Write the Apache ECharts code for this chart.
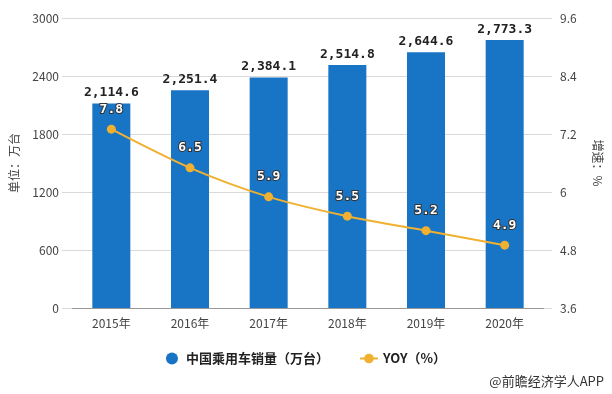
<!DOCTYPE html>
<html><head><meta charset="utf-8">
<script src="https://cdn.jsdelivr.net/npm/echarts@6/dist/echarts.min.js"></script>
<style>html,body{margin:0;padding:0;background:#fff}#c{width:612px;height:394px}</style>
</head><body><div id="c"></div>
<script>
const categories = ['2015年','2016年','2017年','2018年','2019年','2020年'];
const sales = [2114.6, 2251.4, 2384.1, 2514.8, 2644.6, 2773.3];
const yoyPlot = [7.3, 6.5, 5.9, 5.5, 5.2, 4.9];
const yoyLabels = ['7.8','6.5','5.9','5.5','5.2','4.9'];
const leftTicks = {min: 0, max: 3000, interval: 600};
const rightTicks = {min: 3.6, max: 9.6, interval: 1.2};
const salesName = '中国乘用车销量（万台）';
const yoyName = 'YOY（%）';

const chart = echarts.init(document.getElementById('c'), null, {renderer: 'canvas'});
const cjk = '"Noto Sans CJK SC", "Noto Sans", sans-serif';
chart.setOption({
  animation: false,
  grid: {left: 68, right: 60, top: 18, bottom: 86},
  legend: {
    bottom: 24, left: 'center', itemGap: 30,
    data: [{name: salesName, icon: 'circle'}, {name: yoyName}],
    itemWidth: 18, itemHeight: 12,
    textStyle: {fontFamily: cjk, fontSize: 13, fontWeight: 'bold', color: '#222'}
  },
  graphic: [{type: 'text', right: 8, bottom: 6,
    style: {text: '@前瞻经济学人APP', font: '13px "Noto Sans CJK SC", sans-serif', fill: '#333'}}],
  xAxis: {
    type: 'category', data: categories,
    axisLine: {lineStyle: {color: '#999'}},
    axisTick: {alignWithLabel: true, length: 5, lineStyle: {color: '#999'}},
    axisLabel: {fontFamily: cjk, fontSize: 12, color: '#444', margin: 9}
  },
  yAxis: [{
    type: 'value', min: leftTicks.min, max: leftTicks.max, interval: leftTicks.interval,
    name: '单位：万台', nameLocation: 'middle', nameRotate: 90, nameGap: 52,
    nameTextStyle: {fontFamily: cjk, fontSize: 12, color: '#444'},
    axisLine: {show: false},
    axisTick: {show: true, length: 10, lineStyle: {color: '#d9d9d9'}},
    axisLabel: {fontFamily: cjk, fontSize: 12, color: '#444', margin: 13, formatter: v => String(v)},
    splitLine: {lineStyle: {color: '#d9d9d9'}}
  }, {
    type: 'value', min: rightTicks.min, max: rightTicks.max, interval: rightTicks.interval,
    name: '增速：%', nameLocation: 'middle', nameRotate: -90, nameGap: 48,
    nameTextStyle: {fontFamily: cjk, fontSize: 12, color: '#444'},
    axisLine: {show: false},
    axisTick: {show: true, length: 8, lineStyle: {color: '#d9d9d9'}},
    axisLabel: {fontFamily: cjk, fontSize: 12, color: '#444', margin: 16, formatter: v => String(+v.toFixed(1))},
    splitLine: {show: false}
  }],
  series: [{
    name: salesName, type: 'bar', data: sales, barWidth: 38,
    itemStyle: {color: '#1874c4'},
    label: {show: true, position: 'top', distance: 4,
      formatter: p => p.value.toLocaleString('en-US', {minimumFractionDigits: 1, maximumFractionDigits: 1}),
      fontFamily: '"DejaVu Sans Mono", monospace', fontSize: 13, fontWeight: 'bold', color: '#222'}
  }, {
    name: yoyName, type: 'line', yAxisIndex: 1, data: yoyPlot, smooth: 0.3,
    symbol: 'circle', symbolSize: 9,
    lineStyle: {color: '#f0b030', width: 2},
    itemStyle: {color: '#f0b030'},
    label: {show: true, position: 'top', distance: 9,
      formatter: p => yoyLabels[p.dataIndex],
      fontFamily: '"DejaVu Sans Mono", monospace', fontSize: 13, fontWeight: 'bold', color: '#fff',
      textBorderColor: '#333', textBorderWidth: 2}
  }]
});
</script></body></html>
